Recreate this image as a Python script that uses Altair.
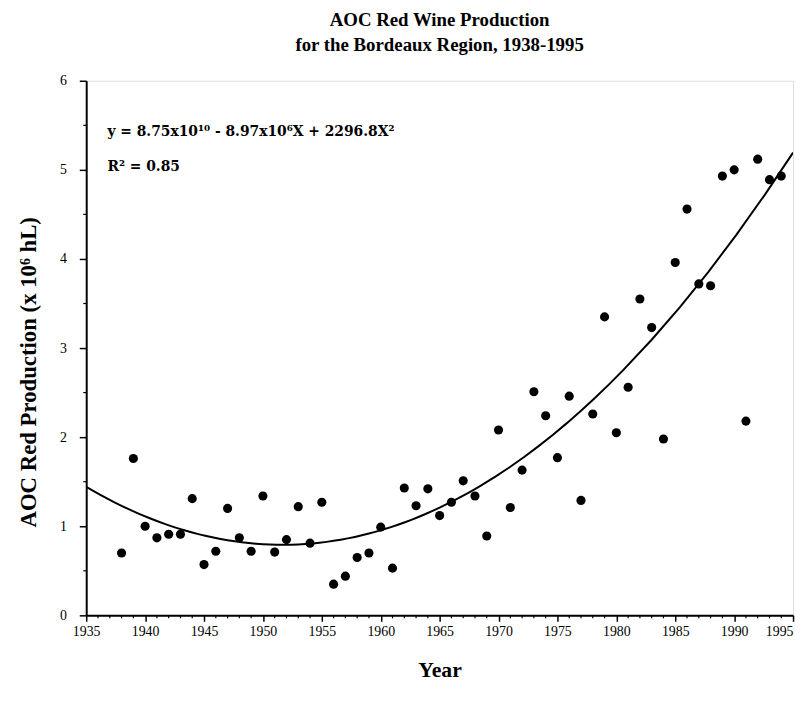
import altair as alt
import pandas as pd

years = list(range(1938, 1995))
production = [0.70, 1.76, 1.00, 0.87, 0.91, 0.91, 1.31, 0.57, 0.72, 1.20,
              0.87, 0.72, 1.34, 0.71, 0.85, 1.22, 0.81, 1.27, 0.35, 0.44,
              0.65, 0.70, 0.99, 0.53, 1.43, 1.23, 1.42, 1.12, 1.27, 1.51,
              1.34, 0.89, 2.08, 1.21, 1.63, 2.51, 2.24, 1.77, 2.46, 1.29,
              2.26, 3.35, 2.05, 2.56, 3.55, 3.23, 1.98, 3.96, 4.56, 3.72,
              3.70, 4.93, 5.00, 2.18, 5.12, 4.89, 4.93]

x_major = list(range(1935, 1996, 5))
x_minor = [v for v in range(1935, 1996) if v % 5 != 0]
y_major = [0, 1, 2, 3, 4, 5, 6]
y_minor = [0.5, 1.5, 2.5, 3.5, 4.5, 5.5]

ann_text = ["y = 8.75x10¹⁰ - 8.97x10⁶X + 2296.8X²", "R² = 0.85"]
ann_x = [1936.8, 1936.8]
ann_y = [5.43, 5.03]

df = pd.DataFrame({"Year": years, "Production": production})
ann = pd.DataFrame({"x": ann_x, "y": ann_y, "t": ann_text})
xm = pd.DataFrame({"v": x_minor})
ym = pd.DataFrame({"v": y_minor})

SERIF = "Liberation Serif"
W, H = 714, 540

xscale = alt.Scale(domain=[1935, 1995], nice=False, zero=False)
yscale = alt.Scale(domain=[0, 6], nice=False, zero=True)

xaxis = alt.Axis(
    values=x_major, format="d",
    labelAlign={"condition": {"test": "datum.value === 1995", "value": "right"}, "value": "center"},
    tickSize=6, tickColor="black", tickWidth=1.5,
    domainColor="black", domainWidth=2,
    labelFont=SERIF, labelFontSize=14, labelColor="black", labelPadding=3,
    labelFlush=False, labelOverlap=False,
    title="Year", titleFont=SERIF, titleFontSize=22, titleFontWeight="bold",
    titleColor="black", titlePadding=22, grid=False,
)
yaxis = alt.Axis(
    values=y_major, format="d",
    tickSize=7, tickColor="black", tickWidth=1.5,
    domainColor="black", domainWidth=2,
    labelFont=SERIF, labelFontSize=14, labelColor="black", labelPadding=13,
    labelFlush=False, labelOverlap=False,
    title="AOC Red Production (x 10⁶ hL)", titleFont=SERIF, titleFontSize=23,
    titleFontWeight="bold", titleColor="black", titlePadding=19,
    titleY=294, grid=False,
)

points = alt.Chart(df).mark_circle(size=85, color="black", opacity=1).encode(
    x=alt.X("Year:Q", scale=xscale, axis=xaxis),
    y=alt.Y("Production:Q", scale=yscale, axis=yaxis),
)

curve = alt.Chart(df).transform_regression(
    "Year", "Production", method="poly", order=2, extent=[1935, 1995]
).mark_line(color="black", strokeWidth=2, clip=True).encode(
    x=alt.X("Year:Q", scale=xscale),
    y=alt.Y("Production:Q", scale=yscale),
)

text = alt.Chart(ann).mark_text(
    align="left", baseline="middle", font="DejaVu Serif", fontSize=14,
    fontWeight="bold", color="black"
).encode(
    x=alt.X("x:Q", scale=xscale),
    y=alt.Y("y:Q", scale=yscale),
    text="t:N",
)

xminor = alt.Chart(xm).mark_rule(color="black", strokeWidth=1.2).encode(
    x=alt.X("v:Q", scale=xscale),
    y=alt.value(H),
    y2=alt.value(H + 3),
)
yminor = alt.Chart(ym).mark_rule(color="black", strokeWidth=1.2).encode(
    y=alt.Y("v:Q", scale=yscale),
    x=alt.value(0),
    x2=alt.value(-3),
)

chart = alt.layer(points, curve, text, xminor, yminor).properties(
    width=W, height=H,
    autosize=alt.AutoSizeParams(type="none"),
    padding={"left": 79, "top": 70, "right": 5, "bottom": 82},
    title=alt.TitleParams(
        ["AOC Red Wine Production", "for the Bordeaux Region, 1938-1995"],
        font=SERIF, fontSize=19, fontWeight="bold", color="black",
        anchor="middle", lineHeight=25, offset=19,
    ),
).configure_view(stroke="black", strokeWidth=2).configure(background="white")

chart.save("out.html", embed_options={"renderer": "svg", "actions": False})
